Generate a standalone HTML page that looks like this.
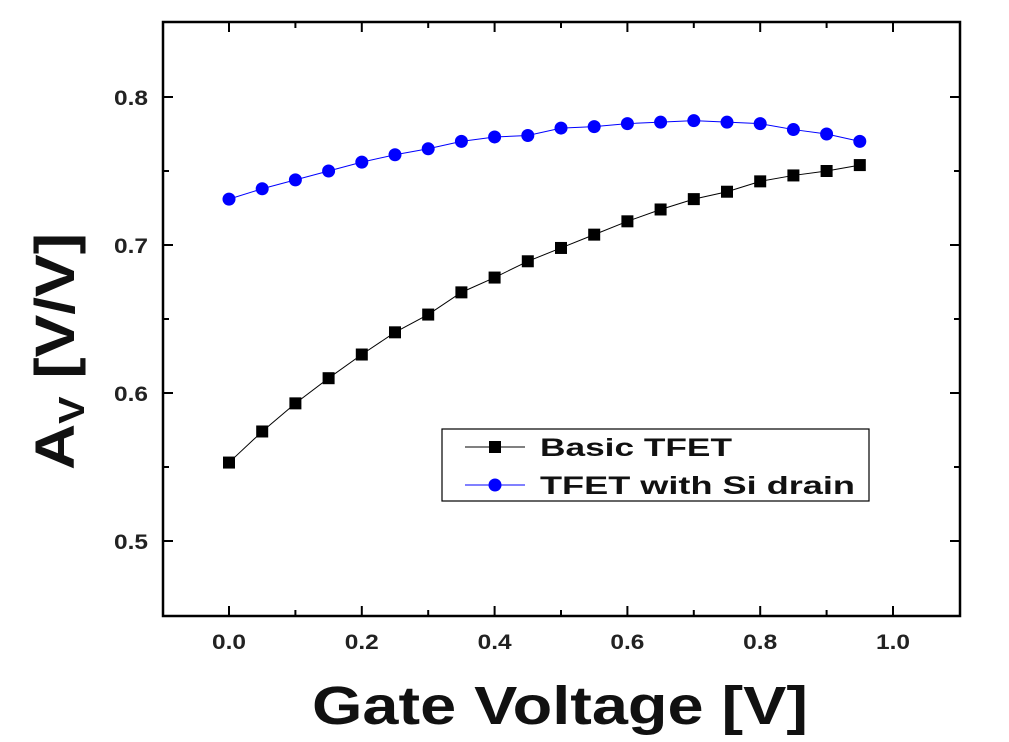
<!DOCTYPE html>
<html><head><style>body{margin:0;background:#fff}svg{display:block}</style></head>
<body>
<svg id="s" width="1009" height="742" xmlns="http://www.w3.org/2000/svg" font-family="Liberation Sans, sans-serif" font-weight="bold">
<rect x="163" y="22" width="797" height="594" fill="none" stroke="#000" stroke-width="2.5"/>
<g id="ticks" stroke="#000" stroke-width="2"></g>
<g id="lbl" font-size="21" fill="#222"></g>
<g id="data"></g>
<rect x="442" y="429" width="427" height="72" fill="#fff" stroke="#000" stroke-width="1.2"/>
<line x1="465" y1="447" x2="525" y2="447" stroke="#000" stroke-width="1"/>
<rect x="489" y="441" width="12" height="12" fill="#000"/>
<line x1="465" y1="485" x2="525" y2="485" stroke="#00f" stroke-width="1"/>
<circle cx="495" cy="485" r="6.5" fill="#00f"/>
<text x="540" y="456" font-size="25" fill="#111" textLength="192" lengthAdjust="spacingAndGlyphs">Basic TFET</text>
<text x="540" y="494" font-size="25" fill="#111" textLength="315" lengthAdjust="spacingAndGlyphs">TFET with Si drain</text>
<text x="312" y="724" font-size="54" fill="#111" textLength="496" lengthAdjust="spacingAndGlyphs">Gate Voltage [V]</text>
<text transform="translate(74,470) rotate(-90)" font-size="56" fill="#111" textLength="237" lengthAdjust="spacingAndGlyphs">A<tspan font-size="36" dy="10">V</tspan><tspan dy="-10"> [V/V]</tspan></text>
</svg>
<script>
var X=v=>229+v*664, Y=v=>97+(0.8-v)*1480;
var t='',l='';
for(var i=-1;i<=11;i++){var x=X(i*0.1);if(x<165||x>958)continue;var L=i%2==0?10:6;
t+=`<line x1="${x}" y1="616" x2="${x}" y2="${616-L}"/><line x1="${x}" y1="22" x2="${x}" y2="${22+L}"/>`;
if(i%2==0&&i>=0)l+=`<text x="${x}" y="649" text-anchor="middle" textLength="34" lengthAdjust="spacingAndGlyphs">${(i/10).toFixed(1)}</text>`;}
for(var j=0;j<=8;j++){var v=0.45+j*0.05;var y=Y(v);if(y<24||y>614)continue;var L=j%2==1?10:6;
t+=`<line x1="163" y1="${y}" x2="${163+L}" y2="${y}"/><line x1="960" y1="${y}" x2="${960-L}" y2="${y}"/>`;
if(j%2==1)l+=`<text x="114" y="${y+8}" textLength="34" lengthAdjust="spacingAndGlyphs">${v.toFixed(1)}</text>`;}
document.getElementById('ticks').innerHTML=t;document.getElementById('lbl').innerHTML=l;
var b=[0.731,0.738,0.744,0.750,0.756,0.761,0.765,0.770,0.773,0.774,0.779,0.780,0.782,0.783,0.784,0.783,0.782,0.778,0.775,0.770];
var k=[0.553,0.574,0.593,0.610,0.626,0.641,0.653,0.668,0.678,0.689,0.698,0.707,0.716,0.724,0.731,0.736,0.743,0.747,0.750,0.754];
var d='',pb='',pk='';
for(var i=0;i<20;i++){var x=X(i*0.05);pb+=x+','+Y(b[i])+' ';pk+=x+','+Y(k[i])+' ';
d+=`<rect x="${x-6}" y="${Y(k[i])-6}" width="12" height="12" fill="#000"/><circle cx="${x}" cy="${Y(b[i])}" r="6.5" fill="#00f"/>`;}
document.getElementById('data').innerHTML=`<polyline points="${pk}" fill="none" stroke="#000" stroke-width="1"/><polyline points="${pb}" fill="none" stroke="#00f" stroke-width="1"/>`+d;
</script>
</body></html>
